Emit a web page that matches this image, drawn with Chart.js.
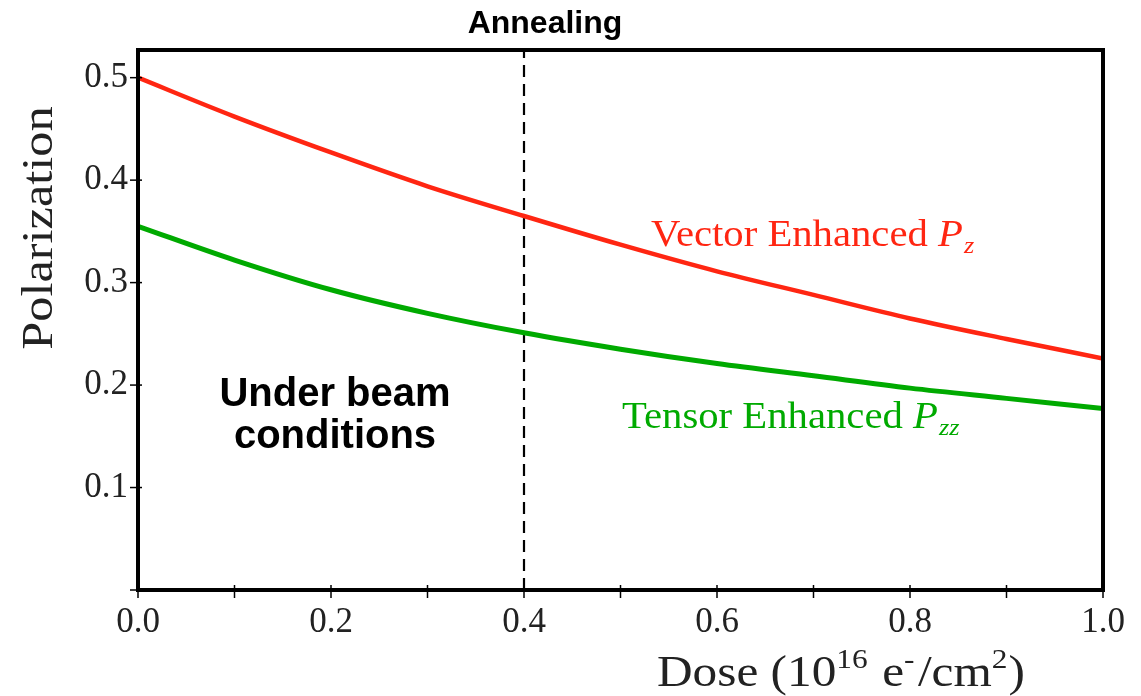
<!DOCTYPE html>
<html>
<head>
<meta charset="utf-8">
<script src="https://cdn.jsdelivr.net/npm/chart.js@4.4.0/dist/chart.umd.min.js"></script>
<style>
  html, body { margin: 0; padding: 0; background: #fff; }
  #contenedor { width: 1141px; height: 696px; }
</style>
</head>
<body>
<div id="contenedor"><canvas id="grafico_polarizacion"></canvas></div>
<script>
// dosis en 10^16 e-/cm2
const dosis = [0, 0.1, 0.2, 0.3, 0.4, 0.5, 0.6, 0.7, 0.8, 0.9, 1.0];
// polarizacion vectorial (Pz) y tensorial (Pzz)
const vectorPz = [0.500, 0.462, 0.427, 0.394, 0.365, 0.337, 0.311, 0.288, 0.265, 0.245, 0.226];
const tensorPzz = [0.355, 0.322, 0.293, 0.270, 0.251, 0.235, 0.221, 0.209, 0.197, 0.187, 0.177];

const xTicks = [0, 0.2, 0.4, 0.6, 0.8, 1.0];
const xMinorTicks = [0, 0.1, 0.2, 0.3, 0.4, 0.5, 0.6, 0.7, 0.8, 0.9, 1.0];
const yTicks = [0.1, 0.2, 0.3, 0.4, 0.5];
const yMinorTicks = [0, 0.1, 0.2, 0.3, 0.4, 0.5];
const annealDose = 0.4;
const yMax = 0.527;

const ROJO = 'rgb(255, 38, 18)';
const VERDE = 'rgb(0, 170, 0)';
const SERIF = '"Liberation Serif", "Times New Roman", serif';
const SANS = '"Liberation Sans", Arial, sans-serif';

// dibuja texto por partes (superindices y subindices), estirado en horizontal por sx
function textoCompuesto(ctx, x, y, partes, sx) {
  ctx.save();
  ctx.translate(x, y);
  ctx.scale(sx || 1, 1);
  let cx = 0;
  partes.forEach((p) => {
    ctx.font = p.font;
    ctx.fillText(p.t, cx, p.dy || 0);
    cx += ctx.measureText(p.t).width + (p.dx || 0);
  });
  ctx.restore();
}

const marco = {
  id: 'marco',
  afterDraw(chart) {
    const ctx = chart.ctx;
    const a = chart.chartArea;
    const sx = chart.scales.x;
    const sy = chart.scales.y;
    ctx.save();

    // ticks menores que cruzan los ejes
    ctx.strokeStyle = '#000';
    ctx.lineWidth = 1.5;
    xMinorTicks.forEach((v) => {
      const px = sx.getPixelForValue(v);
      ctx.beginPath();
      ctx.moveTo(px, a.bottom - 5);
      ctx.lineTo(px, a.bottom + 8);
      ctx.stroke();
    });
    yMinorTicks.forEach((v) => {
      const py = sy.getPixelForValue(v);
      ctx.beginPath();
      ctx.moveTo(a.left - 8, py);
      ctx.lineTo(a.left + 4, py);
      ctx.stroke();
    });

    // caja del grafico
    ctx.lineWidth = 4;
    ctx.strokeRect(a.left, a.top, a.right - a.left, a.bottom - a.top);

    // titulo eje y
    ctx.fillStyle = '#222';
    ctx.save();
    ctx.translate(52, 228);
    ctx.rotate(-Math.PI / 2);
    ctx.scale(1.12, 1);
    ctx.font = '45px ' + SERIF;
    ctx.textAlign = 'center';
    ctx.textBaseline = 'alphabetic';
    ctx.fillText('Polarization', 0, 0);
    ctx.restore();

    // titulo eje x
    ctx.textAlign = 'left';
    ctx.textBaseline = 'alphabetic';
    const f = '44px ' + SERIF;
    const fs = '28px ' + SERIF;
    textoCompuesto(ctx, 657, 686, [
      { t: 'Dose (10', font: f },
      { t: '16', font: fs, dy: -18, dx: 13 },
      { t: 'e', font: f },
      { t: '-', font: fs, dy: -18, dx: 3 },
      { t: '/cm', font: f },
      { t: '2', font: fs, dy: -18, dx: 1 },
      { t: ')', font: f },
    ], 1.12);

    // textos de anotacion
    ctx.font = 'bold 32px ' + SANS;
    ctx.fillStyle = '#000';
    ctx.textAlign = 'center';
    ctx.fillText('Annealing', sx.getPixelForValue(annealDose) + 21, 33);
    ctx.font = 'bold 40px ' + SANS;
    ctx.fillText('Under beam', 335, 406);
    ctx.fillText('conditions', 335, 448);

    ctx.textAlign = 'left';
    ctx.fillStyle = ROJO;
    textoCompuesto(ctx, 651, 246, [
      { t: 'Vector Enhanced ', font: '37px ' + SERIF },
      { t: 'P', font: 'italic 37px ' + SERIF, dx: 1 },
      { t: 'z', font: 'italic 24px ' + SERIF, dy: 7 },
    ], 1.1);
    ctx.fillStyle = VERDE;
    textoCompuesto(ctx, 622, 428, [
      { t: 'Tensor Enhanced ', font: '37px ' + SERIF },
      { t: 'P', font: 'italic 37px ' + SERIF, dx: 1 },
      { t: 'zz', font: 'italic 24px ' + SERIF, dy: 7 },
    ], 1.1);
    ctx.restore();
  },
};

const grafica = new Chart(document.getElementById('grafico_polarizacion'), {
  type: 'line',
  data: {
    datasets: [
      {
        label: 'Vector Enhanced Pz',
        data: dosis.map((d, i) => ({ x: d, y: vectorPz[i] })),
        borderColor: ROJO,
        borderWidth: 4.5,
        pointRadius: 0,
        cubicInterpolationMode: 'monotone',
      },
      {
        label: 'Tensor Enhanced Pzz',
        data: dosis.map((d, i) => ({ x: d, y: tensorPzz[i] })),
        borderColor: VERDE,
        borderWidth: 5,
        pointRadius: 0,
        cubicInterpolationMode: 'monotone',
      },
      {
        label: 'Annealing',
        data: [{ x: annealDose, y: 0 }, { x: annealDose, y: yMax }],
        borderColor: '#000',
        borderWidth: 2.2,
        borderDash: [12, 7],
        pointRadius: 0,
      },
    ],
  },
  options: {
    responsive: true,
    maintainAspectRatio: false,
    animation: false,
    layout: { padding: { top: 50, right: 38, left: 0, bottom: 0 } },
    plugins: { legend: { display: false }, tooltip: { enabled: false } },
    scales: {
      x: {
        type: 'linear',
        min: 0,
        max: 1,
        afterBuildTicks: (s) => { s.ticks = xTicks.map((v) => ({ value: v })); },
        afterFit: (s) => { s.height = 106; },
        grid: { display: false, drawTicks: false },
        border: { display: false },
        ticks: {
          padding: 12,
          color: '#222',
          font: { family: SERIF, size: 35 },
          callback: (v) => Number(v).toFixed(1),
          maxRotation: 0,
        },
      },
      y: {
        type: 'linear',
        min: 0,
        max: yMax,
        afterBuildTicks: (s) => { s.ticks = yTicks.map((v) => ({ value: v })); },
        afterFit: (s) => { s.width = 138; },
        grid: { display: false, drawTicks: false },
        border: { display: false },
        ticks: {
          padding: 10,
          color: '#222',
          font: { family: SERIF, size: 35 },
          callback: (v) => Number(v).toFixed(1),
        },
      },
    },
  },
  plugins: [marco],
});
</script>
</body>
</html>
